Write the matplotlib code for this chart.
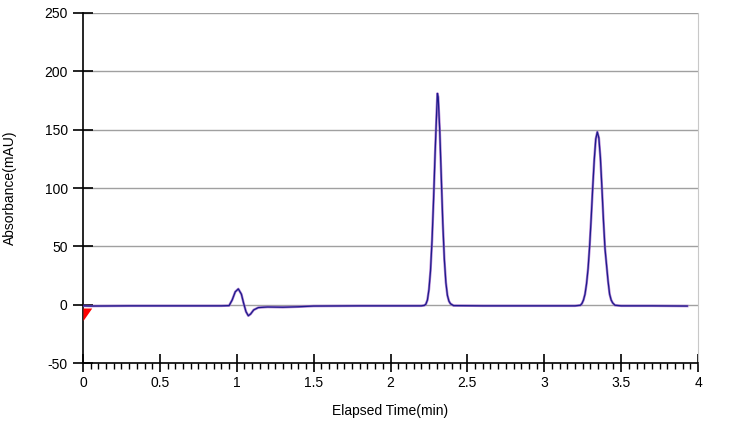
import numpy as np
import matplotlib
matplotlib.use("Agg")
import matplotlib.pyplot as plt
from matplotlib.ticker import MultipleLocator

# chromatogram trace (time in min, absorbance in mAU)
time_min = [0.00, 0.05, 0.30, 0.60, 0.90, 0.95, 0.97, 0.99, 1.01, 1.03, 1.045,
            1.06, 1.075, 1.09, 1.11, 1.14, 1.20, 1.30, 1.40, 1.50, 1.80, 2.10,
            2.20, 2.22, 2.23, 2.24, 2.25, 2.26, 2.27, 2.28, 2.29, 2.30, 2.305,
            2.31, 2.32, 2.33, 2.34, 2.35, 2.36, 2.37, 2.38, 2.39, 2.41, 2.60,
            2.90, 3.20, 3.235, 3.245, 3.255, 3.265, 3.275, 3.285, 3.295, 3.305,
            3.315, 3.325, 3.335, 3.345, 3.355, 3.365, 3.375, 3.385, 3.395,
            3.405, 3.415, 3.425, 3.435, 3.445, 3.46, 3.50, 3.70, 3.93]
absorb = [-1.0, -1.2, -1.0, -1.0, -1.0, -0.8, 4.0, 11.0, 13.5, 9.0, 1.0,
          -6.0, -9.5, -8.0, -4.5, -2.5, -2.0, -2.2, -1.8, -1.2, -1.0, -1.0,
          -1.0, -0.6, 0.5, 4.0, 13.0, 29.0, 55.0, 90.0, 130.0, 165.0, 181.0,
          178.0, 150.0, 110.0, 70.0, 39.0, 19.0, 8.0, 3.0, 0.8, -0.8, -1.0,
          -1.0, -1.0, -0.5, 1.0, 4.0, 9.0, 18.0, 31.0, 50.0, 74.0,
          100.0, 124.0, 142.0, 148.0, 143.0, 126.0, 100.0, 72.0, 48.0,
          34.0, 20.0, 9.0, 4.0, 1.5, -0.5, -1.0, -1.0, -1.2]

inject_time = [0.0]
inject_level = [-2.5]

x_ticks = [0, 0.5, 1, 1.5, 2, 2.5, 3, 3.5, 4]
y_ticks = [-50, 0, 50, 100, 150, 200, 250]

plt.rcParams['font.family'] = ['Liberation Sans', 'DejaVu Sans']
plt.rcParams['axes.unicode_minus'] = False

fig = plt.figure(figsize=(7.5, 4.22), dpi=100)
ax = fig.add_axes([0.1107, 0.1398, 0.82, 0.8294])

# gridlines
for yv in y_ticks[1:]:
    ax.axhline(yv, color='#a0a0a0', lw=1.0, zorder=1)

ax.plot(time_min, absorb, color='#9a5cc8', lw=1.8, zorder=3, alpha=0.8)
ax.plot(time_min, absorb, color='#1c1c8a', lw=0.9, zorder=4)

# injection marker
tri = [(0, 0), (0.7, 0), (0, -1), (0, 0)]
ax.plot(inject_time, inject_level, linestyle='none', marker=tri,
        markersize=18, color='red', markeredgewidth=0, zorder=5, clip_on=False)

ax.set_xlim(0, 4)
ax.set_ylim(-50, 250)
ax.set_xticks(x_ticks)
ax.set_xticklabels([str(v) for v in x_ticks])
ax.set_yticks(y_ticks)
ax.set_yticklabels([str(v) for v in y_ticks])
ax.xaxis.set_minor_locator(MultipleLocator(0.05))

ax.spines['top'].set_visible(False)
ax.spines['right'].set_color('#c8c8c8')
ax.spines['left'].set_linewidth(1.2)
ax.spines['bottom'].set_linewidth(1.2)

ax.tick_params(axis='y', which='major', direction='inout', length=14,
               width=1.2, labelsize=10, pad=4)
ax.tick_params(axis='x', which='major', direction='inout', length=13,
               width=1.2, labelsize=10, pad=3)
ax.tick_params(axis='x', which='minor', direction='out', length=4, width=1)

ax.set_xlabel('Elapsed Time(min)', fontsize=10, labelpad=10)
ax.set_ylabel('Absorbance(mAU)', fontsize=10, labelpad=20)

fig.savefig('out.png', dpi=100)
